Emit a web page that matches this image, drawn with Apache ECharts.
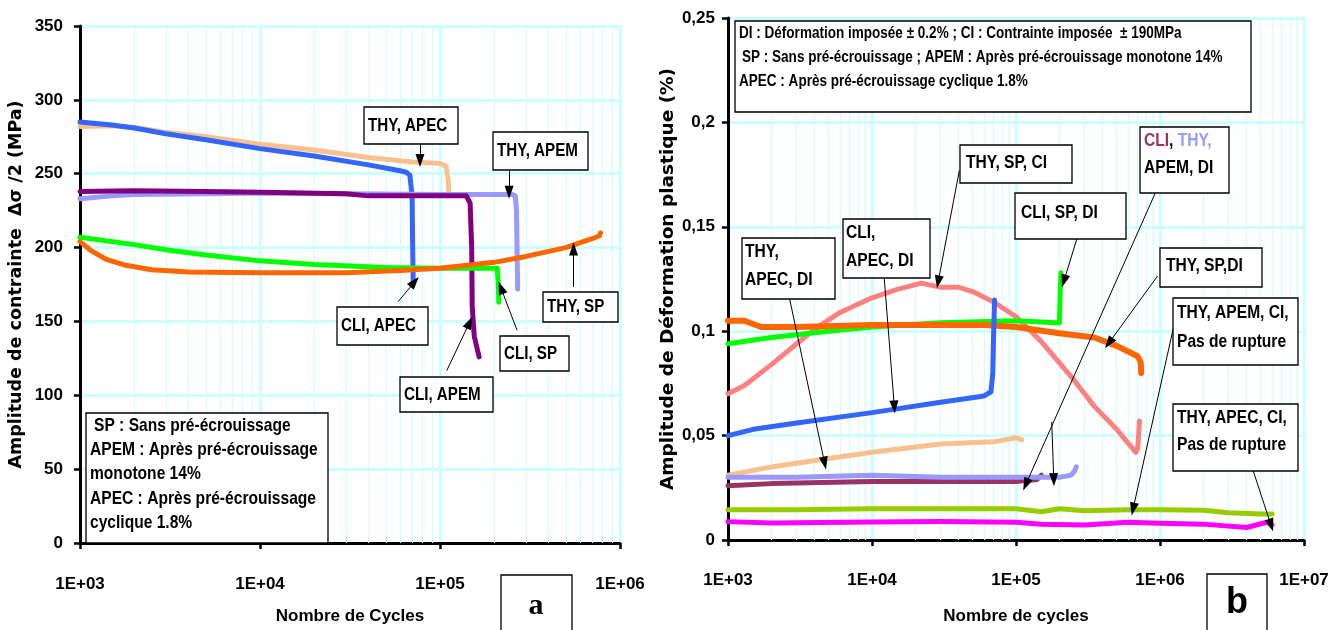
<!DOCTYPE html>
<html><head><meta charset="utf-8">
<script src="https://cdn.jsdelivr.net/npm/echarts@6/dist/echarts.min.js"></script>
<style>html,body{margin:0;padding:0;background:#fff}#c{width:1343px;height:630px}</style>
</head><body><div id="c"></div>
<script>
const ARIAL = '"Liberation Sans",Arial,sans-serif';
const WIDE = '"DejaVu Sans","Liberation Sans",sans-serif';
const NARROW_SCALE = 0.82;

// ---------- Panel a : stress amplitude (MPa) vs cycles ----------
const aXTickLabels = ['1E+03','1E+04','1E+05','1E+06'];
const aThyApec = [[1000,282],[1500,282.5],[2000,281.5],[3000,278],[5000,275],[10000,270],[20000,266],[40000,261],[70000,258],[100000,257],[108000,255],[111000,246],[112000,237]];
const aCliApec = [[1000,285],[1500,283],[2000,281],[3000,277],[5000,273],[10000,267],[20000,262],[40000,256],[60000,252],[65000,251],[68000,249],[70000,235],[70500,200],[71000,177]];
const aThyApem = [[1000,233],[1500,235],[2000,236],[5000,236.5],[10000,237],[30000,236.5],[100000,236],[200000,236],[250000,236],[262000,235],[266000,225],[268000,200],[270000,172]];
const aCliApem = [[1000,238],[2000,238.5],[5000,238],[10000,237.5],[30000,236.5],[40000,235],[60000,235],[100000,235],[140000,235],[147000,230],[150000,200],[151000,160],[155000,140],[162000,130],[165000,126]];
const aCliSp = [[1000,207],[2000,202],[3000,198.5],[5000,195],[10000,191],[20000,188.5],[50000,186.5],[100000,186],[150000,186],[200000,186],[208000,186],[211000,175],[212000,163]];
const aThySp = [[1000,204],[1150,198],[1400,192],[1800,188],[2500,185],[4000,183.5],[10000,183],[30000,183],[60000,184.5],[100000,186],[200000,190],[300000,194],[500000,200],[700000,206],[770000,208],[780000,210]];

// ---------- Panel b : plastic strain amplitude (%) vs cycles ----------
const bXTickLabels = ['1E+03','1E+04','1E+05','1E+06','1E+07'];
const bYTickLabels = ['0','0,05','0,1','0,15','0,2','0,25'];
const bThySpDi = [[1000,0.105],[1300,0.105],[1700,0.102],[3000,0.102],[10000,0.103],[30000,0.103],[60000,0.103],[100000,0.102],[200000,0.099],[350000,0.097],[500000,0.093],[700000,0.088],[735000,0.085],[740000,0.08]];
const bCliSpDi = [[1000,0.094],[2000,0.097],[5000,0.1],[10000,0.102],[30000,0.104],[100000,0.105],[190000,0.104],[200000,0.104],[202000,0.115],[205000,0.128]];
const bThySpCi = [[1000,0.07],[1300,0.074],[2000,0.084],[3000,0.094],[4000,0.101],[6000,0.109],[10000,0.116],[15000,0.12],[22000,0.123],[30000,0.121],[40000,0.121],[50000,0.119],[70000,0.114],[100000,0.107],[150000,0.095],[250000,0.077],[350000,0.064],[500000,0.053],[680000,0.042],[700000,0.044],[710000,0.05],[720000,0.057]];
const bCliApecDi = [[1000,0.05],[1500,0.053],[3000,0.056],[10000,0.061],[30000,0.066],[60000,0.069],[67000,0.071],[69000,0.08],[70000,0.1],[71000,0.115]];
const bThyApecDi = [[1000,0.031],[2000,0.035],[5000,0.039],[10000,0.042],[30000,0.046],[70000,0.047],[100000,0.049],[110000,0.048]];
const bThyApemDi = [[1000,0.030],[3000,0.030],[10000,0.031],[30000,0.030],[100000,0.030],[200000,0.030],[240000,0.031],[255000,0.033],[262000,0.035]];
const bCliApemDi = [[1000,0.026],[2000,0.027],[10000,0.028],[50000,0.028],[100000,0.028],[140000,0.029],[150000,0.031]];
const bThyApemCi = [[1000,0.0145],[3000,0.0145],[10000,0.015],[50000,0.015],[100000,0.015],[150000,0.0135],[200000,0.015],[300000,0.014],[600000,0.0145],[1000000,0.0145],[2000000,0.0142],[3000000,0.013],[5000000,0.0125],[6000000,0.0125]];
const bThyApecCi = [[1000,0.0088],[2000,0.0082],[10000,0.0086],[30000,0.0089],[100000,0.0085],[150000,0.0075],[300000,0.0072],[600000,0.0085],[1000000,0.008],[2000000,0.0076],[4000000,0.006],[5500000,0.0085],[6000000,0.0072]];

// minor grid positions (2..9 per decade)
const aMinor = [2000,3000,4000,5000,6000,7000,8000,9000,20000,30000,40000,50000,60000,70000,80000,90000,200000,300000,400000,500000,600000,700000,800000,900000];
const bMinor = aMinor.concat([2000000,3000000,4000000,5000000,6000000,7000000,8000000,9000000]);

// arrows: [from, to] in data coordinates
const aArrows = [
  [[77400,272],[77400,259]],
  [[242000,254.7],[242000,237.5]],
  [[58400,163.3],[72200,176.7]],
  [[109000,116.7],[146000,149.3]],
  [[268000,144],[218000,172.7]],
  [[552000,173.3],[552000,199]]
];
const bArrows = [
  [[40400,0.1769],[28800,0.1236]],
  [[269000,0.1458],[215000,0.124]],
  [[946000,0.1675],[117000,0.0266]],
  [[177000,0.0566],[183000,0.0289]],
  [[961000,0.1264],[441000,0.0943]],
  [[1250000,0.1028],[650000,0.0148]],
  [[4290000,0.0363],[5900000,0.0071]],
  [[2640,0.1175],[4690,0.0368]],
  [[12100,0.1274],[14300,0.0637]]
];

const GRID_C = '#ccffff';

function xAxisCfg(gi, max, labels, name, gap, margin){
  return {
    type:'log', logBase:10, gridIndex:gi, min:1000, max:max,
    name:name, nameLocation:'middle', nameGap:gap,
    nameTextStyle:{fontFamily:ARIAL, fontWeight:'bold', fontSize:17, color:'#000'},
    axisLine:{show:true, onZero:false, lineStyle:{color:'#000', width:3}},
    axisTick:{show:true, inside:false, length:6, lineStyle:{color:'#000', width:2.5}},
    axisLabel:{margin:margin, fontFamily:ARIAL, fontWeight:'bold', fontSize:17, color:'#000',
      formatter:function(v){return labels[Math.round(Math.log10(v))-3];}},
    splitLine:{show:true, lineStyle:{color:GRID_C, width:3}},
    minorTick:{show:false}
  };
}
function yAxisCfg(gi, max, interval, fmt, name, gap, margin, nameSize){
  return {
    type:'value', gridIndex:gi, min:0, max:max, interval:interval,
    name:name, nameLocation:'middle', nameGap:gap, nameRotate:90,
    nameTextStyle:{fontFamily:WIDE, fontWeight:'bold', fontSize:nameSize, color:'#000'},
    axisLine:{show:true, onZero:false, lineStyle:{color:'#000', width:3}},
    axisTick:{show:true, inside:false, length:6, lineStyle:{color:'#000', width:2.5}},
    axisLabel:{margin:margin, fontFamily:ARIAL, fontWeight:'bold', fontSize:17, color:'#000', formatter:fmt},
    splitLine:{show:true, lineStyle:{color:GRID_C, width:3}}
  };
}

function lineSeries(name, data, color, gi, width){
  return {
    name:name, type:'line', xAxisIndex:gi, yAxisIndex:gi, data:data,
    showSymbol:false, symbol:'none', smooth:false, silent:true, z:3,
    lineStyle:{color:color, width:width||5, cap:'round', join:'round'}
  };
}
function helperSeries(gi, minor, arrows){
  return [{
    name:'grid'+gi, type:'line', xAxisIndex:gi, yAxisIndex:gi, data:[], z:1, silent:true,
    markLine:{silent:true, symbol:['none','none'], z:1, animation:false,
      label:{show:false}, lineStyle:{color:GRID_C, width:1.2, type:'solid'},
      emphasis:{disabled:true},
      data:minor.map(function(v){return {xAxis:v};})}
  },{
    name:'arrows'+gi, type:'line', xAxisIndex:gi, yAxisIndex:gi, data:[], z:6, silent:true,
    markLine:{silent:true, symbol:['none','triangle'], symbolSize:[9,13], z:6, animation:false,
      label:{show:false}, lineStyle:{color:'#000', width:1, type:'solid'},
      itemStyle:{color:'#000'},
      emphasis:{disabled:true},
      data:arrows.map(function(a){return [{coord:a[0]},{coord:a[1]}];})}
  }];
}

// ---------- annotation boxes (layout only) ----------
const G = [];
function box(x,y,w,h){ G.push({type:'rect', z:100, shape:{x:x,y:y,width:w,height:h}, style:{fill:'#fff', stroke:'#000', lineWidth:1.3}}); }
function txt(x,y,t,size){
  G.push({type:'text', z:101, x:x, y:y, scaleX:NARROW_SCALE, style:{text:t, fill:'#000', fontSize:size||18.5, fontWeight:'bold', fontFamily:ARIAL,
    textAlign:'left', textVerticalAlign:'middle', align:'left', verticalAlign:'middle'}});
}
function bigLetter(x,y,t,size,family){
  G.push({type:'text', z:101, x:x, y:y, style:{text:t, fill:'#000', fontSize:size, fontWeight:'bold', fontFamily:family,
    textAlign:'center', textVerticalAlign:'middle', align:'center', verticalAlign:'middle'}});
}
// panel a
box(364,107,94,37); txt(368,126,'THY, APEC');
box(493,132,95,38); txt(497,151,'THY, APEM');
box(337,307,91,38); txt(341,326,'CLI, APEC');
box(400,377,93,35); txt(404,395,'CLI, APEM');
box(500,336,69,35); txt(504,354,'CLI, SP');
box(543,292,75,30); txt(547,307,'THY, SP');
box(86,413,242,130);
txt(94,426,'SP : Sans pré-écrouissage',19);
txt(90,450,'APEM : Après pré-écrouissage',19);
txt(90,474,'monotone 14%',19);
txt(90,499,'APEC : Après pré-écrouissage',19);
txt(90,523,'cyclique 1.8%',19);
box(501,575,71,60); bigLetter(536,606,'a',30,'"Liberation Serif","DejaVu Serif",serif');
// panel b
box(735,21,516,91);
txt(739,33,'DI : Déformation imposée ± 0.2% ; CI : Contrainte imposée  ± 190MPa',16.5);
txt(742,57,'SP : Sans pré-écrouissage ; APEM : Après pré-écrouissage monotone 14%',16.5);
txt(739,81,'APEC : Après pré-écrouissage cyclique 1.8%',16.5);
box(960,145,112,38); txt(966,163,'THY, SP, CI',19);
box(1015,193,111,46); txt(1021,213,'CLI, SP, DI',19);
box(1140,127,89,66);
G.push({type:'text', z:101, x:1144, y:141, scaleX:NARROW_SCALE, style:{text:'{c|CLI}{k|, }{t|THY,}', fontSize:19, fontWeight:'bold', fontFamily:ARIAL,
  textAlign:'left', textVerticalAlign:'middle', align:'left', verticalAlign:'middle',
  rich:{c:{fill:'#993366',fontSize:19,fontWeight:'bold',fontFamily:ARIAL},
        k:{fill:'#000',fontSize:19,fontWeight:'bold',fontFamily:ARIAL},
        t:{fill:'#9999ff',fontSize:19,fontWeight:'bold',fontFamily:ARIAL}}}});
txt(1144,168,'APEM, DI',19);
box(1160,248,102,39); txt(1166,266,'THY, SP,DI',19);
box(1173,298,125,67); txt(1177,313,'THY, APEM, CI,',19); txt(1177,342,'Pas de rupture',19);
box(1173,404,125,67); txt(1177,418,'THY, APEC, CI,',19); txt(1177,445,'Pas de rupture',19);
box(742,238,93,61); txt(745,252,'THY,',19); txt(745,280,'APEC, DI',19);
box(843,219,87,59); txt(846,233,'CLI,',19); txt(846,261,'APEC, DI',19);
box(1207,574,60,60); bigLetter(1237,603,'b',36,ARIAL);

const chart = echarts.init(document.getElementById('c'), null, {renderer:'canvas'});
chart.setOption({
  animation:false,
  backgroundColor:'#fff',
  grid:[{left:80, top:26, width:540, height:526, containLabel:false},
        {left:728, top:18, width:576, height:530, containLabel:false}],
  xAxis:[xAxisCfg(0, 1000000, aXTickLabels, 'Nombre de Cycles', 65, 33),
         xAxisCfg(1, 10000000, bXTickLabels, 'Nombre de cycles', 68, 32)],
  yAxis:[yAxisCfg(0, 350, 50, null, 'Amplitude de contrainte  Δσ /2 (MPa)', 55, 17, 17.5),
         yAxisCfg(1, 0.25, 0.05, function(v){return bYTickLabels[Math.round(v/0.05)];}, 'Amplitude de Déformation plastique (%)', 44, 13, 18.5)],
  series:[].concat(
    helperSeries(0, aMinor, aArrows),
    helperSeries(1, bMinor, bArrows),
    [
      lineSeries('THY, APEC', aThyApec, '#fac090', 0),
      lineSeries('CLI, APEC', aCliApec, '#3366ff', 0),
      lineSeries('THY, APEM', aThyApem, '#9999ff', 0),
      lineSeries('CLI, APEM', aCliApem, '#800080', 0),
      lineSeries('CLI, SP', aCliSp, '#00ff00', 0),
      lineSeries('THY, SP', aThySp, '#ff6600', 0),
      lineSeries('THY, SP, CI', bThySpCi, '#ff8080', 1),
      lineSeries('CLI, SP, DI', bCliSpDi, '#00ff00', 1),
      lineSeries('THY, SP, DI', bThySpDi, '#ff6600', 1, 6),
      lineSeries('CLI, APEC, DI', bCliApecDi, '#3366ff', 1),
      lineSeries('THY, APEC, DI', bThyApecDi, '#fac090', 1),
      lineSeries('CLI, APEM, DI', bCliApemDi, '#993366', 1),
      lineSeries('THY, APEM, DI', bThyApemDi, '#9999ff', 1),
      lineSeries('THY, APEM, CI', bThyApemCi, '#99cc00', 1),
      lineSeries('THY, APEC, CI', bThyApecCi, '#ff00ff', 1)
    ]),
  graphic:G
});
</script></body></html>
